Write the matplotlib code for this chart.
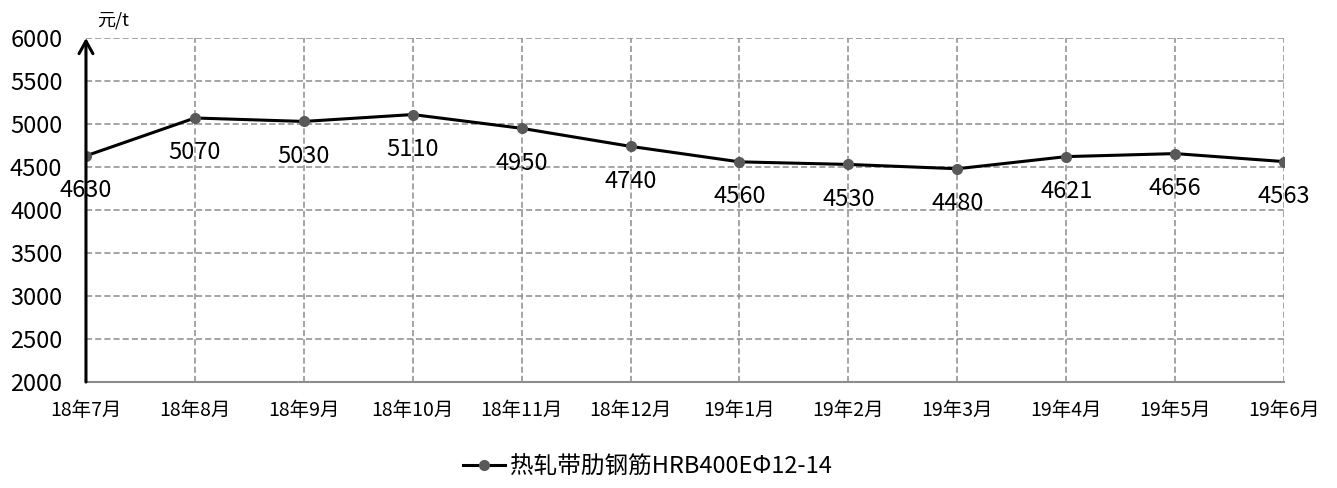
import matplotlib.pyplot as plt

plt.rcParams['font.family'] = ['Noto Sans CJK SC', 'DejaVu Sans']

# 月份与价格（元/t）
months = ['18年7月', '18年8月', '18年9月', '18年10月', '18年11月', '18年12月',
          '19年1月', '19年2月', '19年3月', '19年4月', '19年5月', '19年6月']
prices = [4630, 5070, 5030, 5110, 4950, 4740, 4560, 4530, 4480, 4621, 4656, 4563]
series_name = '热轧带肋钢筋HRB400EΦ12-14'

fig = plt.figure(figsize=(13.37, 4.88), dpi=100)
ax = fig.add_axes([0.0643, 0.2172, 0.8961, 0.7049])

x = list(range(len(months)))
ax.plot(x, prices, color='black', lw=2.2, marker='o', ms=7,
        mfc='#595959', mec='#595959', label=series_name, zorder=3)

for xi, v in zip(x, prices):
    ax.annotate(str(v), (xi, v), xytext=(0, -25), textcoords='offset points',
                ha='center', va='center', fontsize=17, color='black')

ax.set_xlim(0, 11)
ax.set_ylim(2000, 6000)
ax.set_yticks(range(2000, 6001, 500))
ax.set_xticks(x)
ax.set_xticklabels(months, fontsize=14)
ax.tick_params(axis='y', labelsize=17, length=0, pad=17)
ax.tick_params(axis='x', length=0, pad=13)

ax.grid(True, color='#8c8c8c', ls=(0, (4, 2)), lw=1.1)
for s in ['top', 'right', 'left']:
    ax.spines[s].set_visible(False)
ax.spines['bottom'].set_color('#8c8c8c')
ax.spines['bottom'].set_linewidth(1.5)

# 纵轴箭头
ax.annotate('', xy=(0, 6000), xytext=(0, 2000),
            xycoords='data', annotation_clip=False,
            arrowprops=dict(arrowstyle='->,head_length=0.9,head_width=0.5',
                            color='black', lw=2.2, shrinkA=0, shrinkB=0), zorder=4)
ax.text(0.1, 6200, '元/t', fontsize=13, ha='left', va='center')

leg = fig.legend(loc='center', bbox_to_anchor=(0.484, 0.043), frameon=False,
                 fontsize=17, handlelength=1.8, handletextpad=0.2)

fig.savefig('out.png', dpi=100)
